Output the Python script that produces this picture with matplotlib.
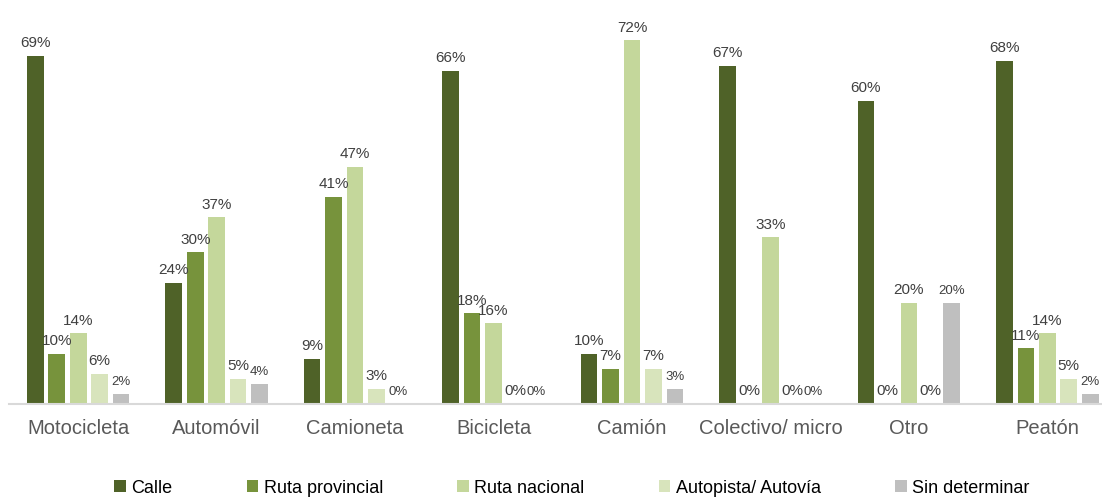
from matplotlib import pyplot as plt
import numpy as np

# Porcentaje por tipo de vehiculo y tipo de via
vehiculos = ["Motocicleta", "Automóvil", "Camioneta", "Bicicleta",
             "Camión", "Colectivo/ micro", "Otro", "Peatón"]

calle = [69, 24, 9, 66, 10, 67, 60, 68]
ruta_provincial = [10, 30, 41, 18, 7, 0, 0, 11]
ruta_nacional = [14, 37, 47, 16, 72, 33, 20, 14]
autopista = [6, 5, 3, 0, 7, 0, 0, 5]
sin_determinar = [2, 4, 0, 0, 3, 0, 20, 2]

series = [("Calle", calle, "#4F6228"),
          ("Ruta provincial", ruta_provincial, "#77933C"),
          ("Ruta nacional", ruta_nacional, "#C4D79B"),
          ("Autopista/ Autovía", autopista, "#D8E4BC"),
          ("Sin determinar", sin_determinar, "#BFBFBF")]

plt.rcParams['font.family'] = ['Liberation Sans', 'DejaVu Sans']

fig = plt.figure(figsize=(11.02, 4.98), dpi=100)
ax = fig.add_axes([9 / 1102, 94 / 498, 1093 / 1102, 404 / 498])

x = np.arange(len(vehiculos))
step = 0.155
width = 0.12

for k, (nombre, valores, color) in enumerate(series):
    pos = x + (k - 2) * step
    bars = ax.bar(pos, valores, width, color=color, label=nombre)
    size = 9.5 if k == 4 else 11
    for b, v in zip(bars, valores):
        ax.annotate(f"{v}%", (b.get_x() + b.get_width() / 2, v),
                    xytext=(0, 4), textcoords="offset points",
                    ha="center", va="bottom", fontsize=size, color="#404040")

ax.set_xlim(-0.5, 7.395)
ax.set_ylim(0, 80)
ax.set_xticks(x)
ax.set_xticklabels(vehiculos, fontsize=14.5, color="#595959")
ax.tick_params(axis="x", length=0, pad=11)
ax.set_yticks([])
for s in ["top", "right", "left"]:
    ax.spines[s].set_visible(False)
ax.spines["bottom"].set_color("#D9D9D9")
ax.spines["bottom"].set_linewidth(1.5)

fig.legend(loc="center", bbox_to_anchor=(0.519, 0.02), ncol=5, frameon=False,
           fontsize=13, handlelength=0.65, handleheight=0.65,
           handletextpad=0.3, columnspacing=4.1)

plt.savefig("out.png", dpi=100)
